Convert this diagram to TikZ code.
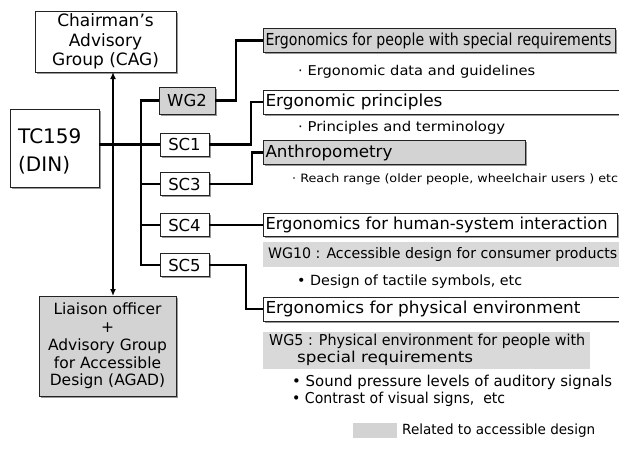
\documentclass[tikz,border=0pt]{standalone}
\usepackage{fontspec}
\setmainfont{DejaVu Sans}
\usepackage{graphicx}
\usetikzlibrary{arrows.meta,shadows}
\definecolor{accgray}{RGB}{211,211,211}
\definecolor{bandgray}{RGB}{217,217,217}
\definecolor{edge}{RGB}{35,35,35}
\newcommand{\fsz}[2]{\fontsize{#1pt}{#2pt}\selectfont}
\newcommand{\fw}[2]{\resizebox{#1pt}{\height}{#2}}
\newcommand{\lbox}[3]{\makebox[#1pt][l]{\fw{#2}{#3}}}
\begin{document}
\begin{tikzpicture}[x=1pt,y=-1pt,
  frame/.style={draw=edge, line width=0.9pt, inner sep=0pt, outer sep=0pt,
    drop shadow={shadow xshift=1.6pt, shadow yshift=-1.6pt, fill=black!40, opacity=1}},
  subbox/.style={frame, fill=white, minimum width=49pt, minimum height=23pt, font=\fsz{16.5}{18}},
  topic/.style={frame, anchor=west, inner xsep=2.5pt, inner ysep=0pt, minimum height=24pt, font=\fsz{16.5}{18}},
  note/.style={inner sep=0pt, anchor=west},
  band/.style={fill=bandgray, inner sep=0pt, anchor=west},
  wire/.style={line width=2.2pt, draw=black}
]
\fill[white] (0,0) rectangle (619,450);
\useasboundingbox (0,0) rectangle (619,450);

% left column
\node[frame, fill=white, minimum width=141pt, minimum height=61pt, align=center, font=\fsz{17}{19.5}] (cag) at (105.5,41.5) {Chairman’s\\Advisory\\Group (CAG)};
\node[frame, fill=white, minimum width=89pt, minimum height=78pt] (tc) at (54.5,148) {};
\node[note, align=left, font=\fsz{20}{28}] (tctext) at (18,151) {TC159\\(DIN)};
\node[frame, fill=accgray, minimum width=137pt, minimum height=100pt, align=center, font=\fsz{15.5}{17.75}] (agad) at (107.5,346) {Liaison officer\\+\\Advisory Group\\for Accessible\\Design (AGAD)};

% sub-committees
\node[subbox, fill=accgray, minimum width=56pt, minimum height=27pt] (wg2) at (187,100.5) {WG2};
\node[subbox] (sc1) at (184.5,144.5) {SC1};
\node[subbox] (sc3) at (184.5,184) {SC3};
\node[subbox] (sc4) at (184.5,225) {SC4};
\node[subbox] (sc5) at (184.5,265) {SC5};

% topic boxes
\node[topic, fill=accgray] (b1) at (263,40.5) {\lbox{347}{346}{Ergonomics for people with special requirements}};
\node[topic, fill=white] (b2) at (263,102) {\lbox{356}{177}{Ergonomic principles}};
\node[topic, fill=accgray] (b3) at (263,152.5) {\lbox{257}{127}{Anthropometry}};
\node[topic, fill=white, minimum height=23pt] (b4) at (263,225) {\lbox{349}{342}{Ergonomics for human-system interaction}};
\node[topic, fill=white] (b5) at (263,309) {\lbox{356}{315}{Ergonomics for physical environment}};

% notes
\node[note, font=\fsz{13.5}{16}] (n1) at (298,72) {\fw{237}{· Ergonomic data and guidelines}};
\node[note, font=\fsz{13.5}{16}] (n2) at (298,127.5) {\fw{207}{· Principles and terminology}};
\node[note, font=\fsz{11.5}{14}] (n3) at (292,179) {\fw{326}{· Reach range (older people, wheelchair users ) etc}};
\node[band, minimum width=360pt, minimum height=25pt, inner xsep=5pt, font=\fsz{14.5}{17}] (wg10) at (263,254.5) {\lbox{350}{349}{WG10 : Accessible design for consumer products}};
\node[note, font=\fsz{14}{16}] (n4) at (297,282) {\fw{225}{• Design of tactile symbols, etc}};
\node[band, minimum width=327pt, minimum height=37pt] (wg5) at (263,350.5) {};
\node[note, font=\fsz{15}{17}] (wg5a) at (269,341) {\fw{316}{WG5 : Physical environment for people with}};
\node[note, font=\fsz{15}{17}] (wg5b) at (297,358) {\fw{176}{special requirements}};
\node[note, font=\fsz{15}{17}] (n5) at (292,382) {\fw{320}{• Sound pressure levels of auditory signals}};
\node[note, font=\fsz{15}{17}] (n6) at (292,399) {\fw{213}{• Contrast of visual signs,\ \ etc}};

% legend
\node[fill=accgray, minimum width=44pt, minimum height=15pt, inner sep=0pt] (leg) at (375,430.5) {};
\node[note, font=\fsz{14}{16}] (legtxt) at (402,430.5) {\fw{193}{Related to accessible design}};

% connectors
\coordinate (bus) at (141,200);
\coordinate (ax) at (113,200);
\draw[wire] (wg2.west) -- (wg2.west -| bus) |- (sc5.west);
\draw[wire] (sc3.west) -- (sc3.west -| bus);
\draw[wire] (sc4.west) -- (sc4.west -| bus);
\draw[wire] (tc.east |- sc1) -- (sc1.west);
\draw[line width=2pt, {Latex[length=7pt,width=6pt]}-{Latex[length=7pt,width=6pt]}] (cag.south -| ax) -- (agad.north -| ax);

\draw[wire] (wg2.east) -- ++(21,0) |- (b1.west);
\draw[wire] (sc1.east) -- ++(42,0) |- (b2.west);
\draw[wire] (sc3.east) -- ++(43,0) |- (b3.west);
\draw[wire] (sc4.east) -- (b4.west);
\draw[wire] (sc5.east) -- ++(37,0) |- (b5.west);
\end{tikzpicture}
\end{document}
